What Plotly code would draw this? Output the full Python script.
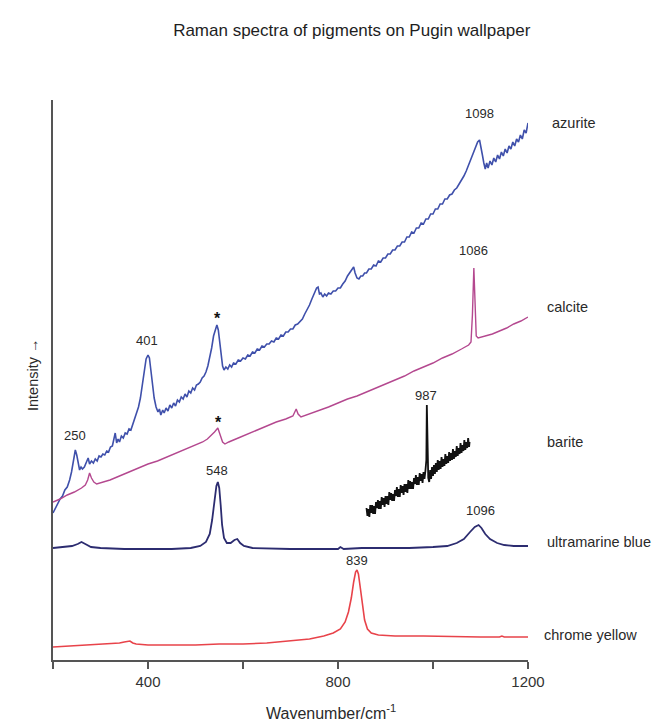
import plotly.graph_objects as go

# ---------------- data ----------------
azurite_x = [200,205,210,215,220,225,230,235,239,243,247,250,253,256,259,262,266,270,274,277,281,285,289,293,297,301,305,309,313,317,321,325,328,331,334,337,340,344,348,352,356,360,364,368,372,376,380,384,388,392,396,400,403,406,409,413,417,421,424,427,431,434,438,442,446,450,454,458,462,466,470,474,478,482,486,490,494,498,502,506,510,514,518,522,526,530,534,538,542,545,548,551,554,557,560,564,568,572,576,580,585,590,595,600,605,610,615,620,625,630,635,640,645,650,655,660,665,670,675,680,685,690,695,700,705,710,715,720,725,730,735,740,745,750,755,758,761,764,768,772,776,780,785,790,795,800,805,810,815,820,825,830,833,836,840,844,848,852,856,860,865,870,875,880,885,890,895,900,905,910,915,920,925,930,935,940,945,950,955,960,965,970,975,980,985,990,995,1000,1005,1010,1015,1020,1025,1030,1035,1040,1045,1050,1055,1060,1065,1070,1075,1080,1085,1090,1094,1098,1101,1104,1107,1110,1113,1116,1120,1124,1128,1132,1136,1140,1144,1148,1152,1156,1160,1164,1168,1172,1176,1180,1184,1188,1192,1196,1200]
azurite_y = [147,152,156,161,164,170,173,180,188,199,210,205,195,190,193,191,193,198,202,196,199,197,201,199,204,203,206,205,209,208,213,214,220,227,217,221,218,224,222,227,226,231,230,236,240,246,253,262,276,291,301,305,302,290,275,262,253,248,251,245,250,247,252,249,255,252,257,254,260,258,263,261,266,263,269,267,272,270,275,276,278,282,284,288,294,302,312,324,332,335,330,318,303,294,290,293,291,295,293,297,296,300,299,302,301,305,304,308,307,311,310,314,313,316,316,319,318,322,321,325,324,328,328,331,331,335,336,339,341,346,350,355,361,367,372,373,366,367,363,366,364,367,366,369,369,372,372,376,379,384,388,392,393,387,382,381,384,384,387,387,391,391,395,394,399,398,402,402,406,406,410,410,414,414,418,418,423,423,428,427,432,432,437,436,441,441,446,446,451,451,456,456,461,461,465,466,470,472,476,479,484,489,495,502,509,514,518,520,514,505,497,491,497,492,499,495,502,498,505,501,508,504,511,507,514,511,518,514,521,518,525,521,530,527,537]

calcite_x = [200,215,230,245,260,268,273,277,281,286,292,300,320,340,360,380,400,420,440,460,480,500,515,525,532,540,547,552,557,562,570,590,610,630,650,670,690,705,712,716,722,740,760,780,800,820,840,860,880,900,920,940,960,980,1000,1020,1040,1060,1075,1080,1083,1086,1089,1091,1095,1110,1125,1140,1155,1170,1185,1200]
calcite_y = [158,161,165,168,172,175,180,187,182,178,176,177,180,184,188,192,196,199,203,207,211,215,218,221,224,228,232,225,218,216,218,222,226,230,234,238,241,244,251,246,243,246,249,253,257,261,264,268,272,276,280,284,289,293,297,302,306,311,315,318,345,392,345,324,322,324,326,329,332,336,339,343]

barite_x = [860,862,864,866,868,870,872,874,876,878,880,882,884,886,888,890,892,894,896,898,900,902,904,906,908,910,912,914,916,918,920,922,924,926,928,930,932,934,936,938,940,942,944,946,948,950,952,954,956,958,960,962,964,966,968,970,972,974,976,978,980,982,984,986,987,988,990,992,994,996,998,1000,1002,1004,1006,1008,1010,1012,1014,1016,1018,1020,1022,1024,1026,1028,1030,1032,1034,1036,1038,1040,1042,1044,1046,1048,1050,1052,1054,1056,1058,1060,1062,1064,1066,1068,1070,1072,1074,1076,1077]
barite_y = [152,144,151,143,155,147,155,146,154,146,158,152,160,151,159,151,163,155,162,153,164,156,164,155,168,160,167,159,166,159,170,164,173,163,171,163,175,167,174,165,176,168,176,167,180,171,179,171,178,171,182,176,185,175,183,175,187,179,186,177,188,181,189,200,255,205,182,178,190,181,193,184,195,186,197,188,200,190,199,191,203,193,201,194,206,196,204,197,208,199,207,200,211,201,209,203,214,204,212,206,217,207,215,209,220,210,218,212,222,213,218]

ultramarine_x = [200,220,240,252,260,268,280,300,350,400,450,490,510,522,530,535,540,544,547,550,553,556,560,566,574,582,588,594,602,620,700,800,805,812,850,900,950,1000,1030,1050,1065,1078,1088,1096,1102,1110,1120,1135,1150,1170,1200]
ultramarine_y = [112,113,114,116,118,116,113,112,111,111,111,112,114,118,126,140,160,174,178,172,155,135,122,117,117,120,121,117,114,112,111,111,113,111,112,112,112,113,114,117,121,128,133,135,132,126,121,117,115,114,114]

chrome_x = [200,240,280,320,340,350,357,362,368,375,400,450,500,550,600,650,700,740,770,790,805,815,822,828,833,837,840,843,847,851,856,862,870,885,920,980,1050,1100,1140,1145,1150,1200]
chrome_y = [13,14,15,16,17,18,19,19,17,16,15,15,15,16,16,17,19,21,24,27,31,38,48,62,78,88,90,86,72,55,40,31,27,25,24,24,23,23,23,24,23,23]

series_names = ["azurite", "calcite", "barite", "ultramarine blue", "chrome yellow"]
series_colors = ["#3f50ab", "#b4488f", "#111111", "#2c2c70", "#e8434a"]
series_label_x = [1.046, 1.036, 1.036, 1.036, 1.03]
series_label_y = [537, 353, 218, 118, 25]

peak_labels = ["250", "401", "548", "987", "1096", "839", "1086", "1098"]
peak_label_x = [247, 398, 546, 986, 1100, 840, 1086, 1098]
peak_label_y = [225, 320, 190, 265, 150, 100, 410, 547]

star_x = [547, 548]
star_y = [342, 238]

xtick_vals = [400, 800, 1200]
xtick_text = ["400", "800", "1200"]

# ---------------- figure ----------------
fig = go.Figure()
xs = [azurite_x, calcite_x, barite_x, ultramarine_x, chrome_x]
ys = [azurite_y, calcite_y, barite_y, ultramarine_y, chrome_y]
widths = [1.6, 1.4, 1.8, 1.8, 1.6]
for name, x, y, c, w in zip(series_names, xs, ys, series_colors, widths):
    fig.add_trace(go.Scatter(x=x, y=y, mode="lines", name=name,
                             line=dict(color=c, width=w), showlegend=False))

TXT = "#2a2a2a"
FONT = "Liberation Sans, Arial, sans-serif"

for t, x, y in zip(peak_labels, peak_label_x, peak_label_y):
    fig.add_annotation(x=x, y=y, xref="x", yref="y", text=t, showarrow=False,
                       font=dict(family=FONT, size=13, color=TXT),
                       xanchor="center", yanchor="middle")

for x, y in zip(star_x, star_y):
    fig.add_annotation(x=x, y=y, xref="x", yref="y", text="<b>*</b>", showarrow=False,
                       font=dict(family=FONT, size=16, color="#111111"),
                       xanchor="center", yanchor="middle")

for t, lx, y in zip(series_names, series_label_x, series_label_y):
    fig.add_annotation(x=lx, y=y, xref="paper", yref="y", text=t, showarrow=False,
                       font=dict(family=FONT, size=14.5, color=TXT),
                       xanchor="left", yanchor="middle")

fig.add_annotation(x=-0.042, y=0.509, xref="paper", yref="paper", text="Intensity \u2192",
                   textangle=-90, showarrow=False,
                   font=dict(family=FONT, size=14.5, color=TXT),
                   xanchor="center", yanchor="middle")

fig.add_annotation(x=0.585, y=-0.093, xref="paper", yref="paper",
                   text="Wavenumber/cm<sup>-1</sup>", showarrow=False,
                   font=dict(family=FONT, size=16, color=TXT),
                   xanchor="center", yanchor="middle")

fig.update_layout(
    width=656, height=714,
    margin=dict(l=45, r=136, t=92, b=62, autoexpand=False),
    paper_bgcolor="white", plot_bgcolor="white",
    title=dict(text="Raman spectra of pigments on Pugin wallpaper",
               x=0.524, xanchor="center", y=0.969, yanchor="middle",
               font=dict(family=FONT, size=17, color="#1e1e1e")),
    xaxis=dict(range=[200, 1200], showgrid=False, zeroline=False, automargin=False,
               showline=True, linecolor="#555555", linewidth=2,
               ticks="outside", tickcolor="#555555", ticklen=7, tickwidth=2,
               tickvals=xtick_vals, ticktext=xtick_text,
               tickfont=dict(family=FONT, size=15, color="#333333"),
               minor=dict(tick0=200, dtick=200, ticks="outside", ticklen=7,
                          tickwidth=2, tickcolor="#555555", showgrid=False)),
    yaxis=dict(range=[0, 560], showgrid=False, zeroline=False, automargin=False,
               showline=True, linecolor="#555555", linewidth=2,
               showticklabels=False, ticks=""),
)

fig.write_html("out.html")
